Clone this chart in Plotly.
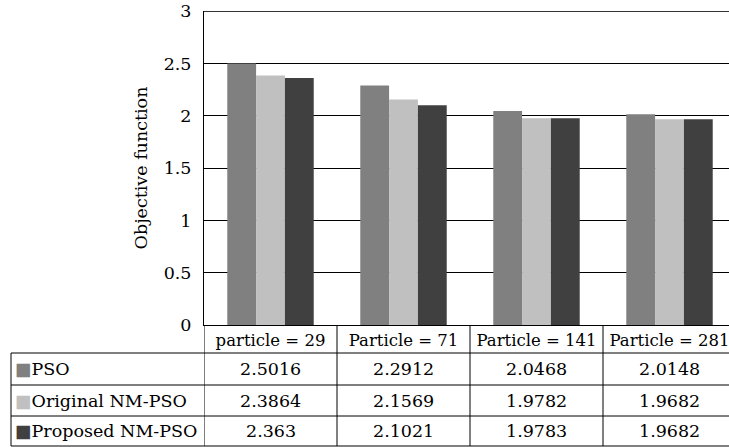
import plotly.graph_objects as go

# data
categories = ['particle = 29', 'Particle = 71', 'Particle = 141', 'Particle = 281']
series_names = ['PSO', 'Original NM-PSO', 'Proposed NM-PSO']
pso = [2.5016, 2.2912, 2.0468, 2.0148]
original_nm_pso = [2.3864, 2.1569, 1.9782, 1.9682]
proposed_nm_pso = ['2.363', '2.1021', '1.9783', '1.9682']
proposed_vals = [float(v) for v in proposed_nm_pso]
y_ticks = [0, 0.5, 1, 1.5, 2, 2.5, 3]

colors = ['#808080', '#c0c0c0', '#404040']
font_name = 'DejaVu Serif'
fsize = 17.5

all_series = [pso, original_nm_pso, proposed_vals]
labels = [[f'{v}' for v in pso], [f'{v}' for v in original_nm_pso], proposed_nm_pso]

fig = go.Figure()
for name, vals, c in zip(series_names, all_series, colors):
    fig.add_trace(go.Bar(x=list(range(len(categories))), y=vals, name=name,
                         marker=dict(color=c, line=dict(width=0))))

W, H = 729, 447
left, top, bottom = 204, 11, 325
ph = float(bottom - top)
pw = float(W - left)

def py(y):
    return (bottom - y) / ph

def pxp(x):
    return (x - left) / pw

row_edges = [325, 353, 385, 416, 446]
shapes = []
# top gridline (plotly skips the one sitting on the plot edge)
shapes.append(dict(type='line', xref='paper', yref='y', x0=0, x1=1,
                   y0=y_ticks[-1], y1=y_ticks[-1], line=dict(color='black', width=1)))
for r in row_edges[1:]:
    shapes.append(dict(type='line', xref='paper', yref='paper', x0=pxp(11), x1=1,
                       y0=py(r), y1=py(r), line=dict(color='black', width=1)))
shapes.append(dict(type='line', xref='paper', yref='paper', x0=pxp(11), x1=pxp(11),
                   y0=py(353), y1=py(446), line=dict(color='black', width=1)))
for i in range(len(categories)):
    shapes.append(dict(type='line', xref='x', yref='paper', x0=i - 0.5, x1=i - 0.5,
                       y0=0, y1=py(446), line=dict(color='black', width=1)))

annotations = []
row_centers = [(row_edges[k + 1] + row_edges[k + 2]) / 2 for k in range(3)]
for k, name in enumerate(series_names):
    annotations.append(dict(
        xref='paper', yref='paper', x=pxp(13), y=py(row_centers[k]),
        xanchor='left', yanchor='middle', showarrow=False,
        text=f"<span style='color:{colors[k]}'>■</span>{name}",
        font=dict(family=font_name, size=fsize, color='black')))
    for i in range(len(categories)):
        annotations.append(dict(
            xref='x', yref='paper', x=i, y=py(row_centers[k]),
            xanchor='center', yanchor='middle', showarrow=False,
            text=labels[k][i],
            font=dict(family=font_name, size=fsize, color='black')))

fig.update_layout(
    width=W, height=H,
    margin=dict(l=left, r=0, t=top, b=H - bottom),
    paper_bgcolor='white', plot_bgcolor='white',
    barmode='group', bargap=0.35, bargroupgap=0,
    showlegend=False,
    font=dict(family=font_name, size=fsize, color='black'),
    shapes=shapes, annotations=annotations,
)
fig.update_xaxes(
    tickmode='array', tickvals=list(range(len(categories))), ticktext=categories,
    range=[-0.5, len(categories) - 0.5 - 7 / 133], showline=True, linecolor='black',
    linewidth=1, ticks='', showgrid=False, zeroline=False,
    ticklabeloverflow='allow',
    tickfont=dict(family=font_name, size=16.5, color='black'),
)
fig.update_yaxes(
    range=[0, 3.003], tickvals=y_ticks, ticktext=[f'{t:g}' for t in y_ticks],
    showline=True, linecolor='black', linewidth=1,
    showgrid=True, gridcolor='black', gridwidth=1, zeroline=False, ticks='',
    ticklabelstandoff=8, ticklabeloverflow='allow',
    title=dict(text='Objective function', standoff=11,
               font=dict(family=font_name, size=fsize, color='black')),
    tickfont=dict(family=font_name, size=fsize, color='black'),
    automargin=False,
)

# drop the page's default body margin so the figure sits at the window corner
fig.write_html('out.html', config={'displayModeBar': False},
               post_script="document.body.style.margin='0px';")
